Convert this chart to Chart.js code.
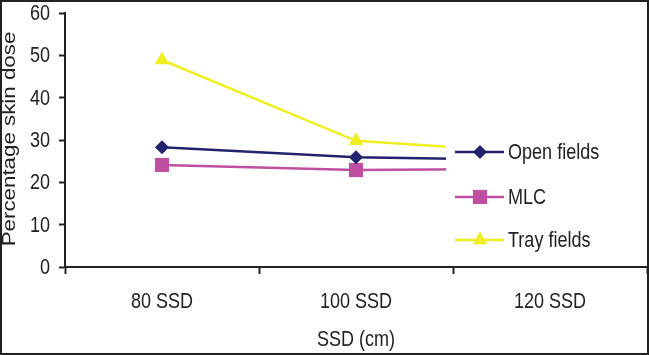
<!DOCTYPE html>
<html>
<head>
<meta charset="utf-8">
<script src="https://cdn.jsdelivr.net/npm/chart.js@4/dist/chart.umd.min.js"></script>
<style>
  html, body { margin: 0; padding: 0; background: #fff; }
  canvas { display: block; }
</style>
</head>
<body>
<canvas id="skinDoseChart" width="649" height="355"></canvas>
<script>
const categories = ['80 SSD', '100 SSD', '120 SSD'];
const openFields = [28.3, 25.9, 25.2];
const mlcFields = [24.1, 22.9, 23.2];
const trayFields = [48.9, 29.8, 26.8];
const yTicks = [0, 10, 20, 30, 40, 50, 60];
const seriesNames = ['Open fields', 'MLC', 'Tray fields'];
const xTitle = 'SSD (cm)';
const yTitle = 'Percentage skin dose';

const FONT = '"Liberation Sans", Arial, sans-serif';
const TEXT = '#222';
// the source picture is squeezed sideways: tall text, normal width
const SQUEEZE = 0.82;

function squeezedText(ctx, text, x, y, align, baseline) {
  ctx.save();
  ctx.translate(x, y);
  ctx.scale(SQUEEZE, 1);
  ctx.font = '22px ' + FONT;
  ctx.fillStyle = TEXT;
  ctx.textAlign = align;
  ctx.textBaseline = baseline;
  ctx.fillText(text, 0, 0);
  ctx.restore();
}

// excel-style legend sitting on top of the plot, white box hides the lines under it
const boxLegend = {
  id: 'boxLegend',
  afterDatasetsDraw(chart) {
    const { ctx, chartArea } = chart;
    ctx.save();
    ctx.fillStyle = '#fff';
    ctx.fillRect(446, chartArea.top + 60, chartArea.right - 446, chartArea.bottom - chartArea.top - 61);

    const rows = [152, 197, 240];
    chart.data.datasets.forEach((ds, i) => {
      const y = rows[i];
      ctx.strokeStyle = ds.borderColor;
      ctx.lineWidth = ds.borderWidth;
      ctx.beginPath();
      ctx.moveTo(455, y);
      ctx.lineTo(504, y);
      ctx.stroke();

      const x = 480;
      ctx.fillStyle = ds.pointBackgroundColor;
      ctx.beginPath();
      if (ds.pointStyle === 'rectRot') {
        const r = ds.pointRadius;
        ctx.moveTo(x, y - r);
        ctx.lineTo(x + r, y);
        ctx.lineTo(x, y + r);
        ctx.lineTo(x - r, y);
      } else if (ds.pointStyle === 'rect') {
        const s = ds.pointRadius * Math.SQRT1_2;
        ctx.rect(x - s, y - s, 2 * s, 2 * s);
      } else {
        const r = ds.pointRadius;
        ctx.moveTo(x, y - r);
        ctx.lineTo(x + r * Math.sin(Math.PI * 2 / 3), y + r / 2);
        ctx.lineTo(x - r * Math.sin(Math.PI * 2 / 3), y + r / 2);
      }
      ctx.closePath();
      ctx.fill();

      squeezedText(ctx, ds.label, 508, y + 1, 'left', 'middle');
    });
    ctx.restore();
  },
  afterDraw(chart) {
    const ctx = chart.ctx;
    const xs = chart.scales.x;
    const ys = chart.scales.y;

    // tick labels, placed by the chart's own scales
    ys.ticks.forEach((t) => {
      squeezedText(ctx, String(t.value), 50, ys.getPixelForValue(t.value) + 1, 'right', 'middle');
    });
    chart.data.labels.forEach((lab, i) => {
      squeezedText(ctx, lab, xs.getPixelForValue(i), 302, 'center', 'middle');
    });
    squeezedText(ctx, xTitle, (xs.left + xs.right) / 2, 340, 'center', 'middle');

    // rotated y title, stretched along its length like the original
    ctx.save();
    ctx.translate(15, 139);
    ctx.rotate(-Math.PI / 2);
    ctx.scale(1.24, 1);
    ctx.fillStyle = TEXT;
    ctx.font = '18px ' + FONT;
    ctx.textAlign = 'center';
    ctx.textBaseline = 'alphabetic';
    ctx.fillText(yTitle, 0, 0);
    ctx.restore();

    // outer frame
    ctx.save();
    ctx.strokeStyle = '#222';
    ctx.lineWidth = 2;
    ctx.strokeRect(1, 1, 647, 353);
    ctx.restore();
  }
};

function makeSeries(label, data, color, style, radius) {
  return {
    label: label,
    data: data,
    borderColor: color,
    backgroundColor: color,
    pointBackgroundColor: color,
    pointBorderColor: color,
    pointBorderWidth: 0,
    pointStyle: style,
    pointRadius: radius,
    pointHoverRadius: radius,
    borderWidth: 2.5,
    tension: 0,
    fill: false
  };
}

new Chart(document.getElementById('skinDoseChart').getContext('2d'), {
  type: 'line',
  data: {
    labels: categories,
    datasets: [
      makeSeries(seriesNames[0], openFields, '#22226e', 'rectRot', 7),
      makeSeries(seriesNames[1], mlcFields, '#bf4fa0', 'rect', 10),
      makeSeries(seriesNames[2], trayFields, '#eeee22', 'triangle', 8.5)
    ]
  },
  plugins: [boxLegend],
  options: {
    responsive: false,
    animation: false,
    layout: { autoPadding: false, padding: { top: 13, right: 2, left: 0, bottom: 0 } },
    plugins: {
      legend: { display: false },
      tooltip: { enabled: false }
    },
    scales: {
      x: {
        offset: true,
        afterFit: (scale) => {
          scale.height = 88;
          scale.paddingLeft = 0;
          scale.paddingRight = 0;
        },
        grid: {
          offset: true,
          drawOnChartArea: false,
          tickLength: 7,
          tickColor: '#222',
          tickWidth: 2
        },
        border: { display: true, color: '#222', width: 2, z: 1 },
        ticks: { display: false, autoSkip: false, maxRotation: 0 }
      },
      y: {
        min: yTicks[0],
        max: yTicks[yTicks.length - 1],
        afterFit: (scale) => {
          scale.width = 65;
          scale.paddingTop = 0;
          scale.paddingBottom = 0;
        },
        grid: {
          drawOnChartArea: false,
          tickLength: 6,
          tickColor: '#222',
          tickWidth: 2
        },
        border: { display: true, color: '#222', width: 2, z: 1 },
        ticks: { display: false, stepSize: yTicks[1] - yTicks[0] }
      }
    }
  }
});
</script>
</body>
</html>
